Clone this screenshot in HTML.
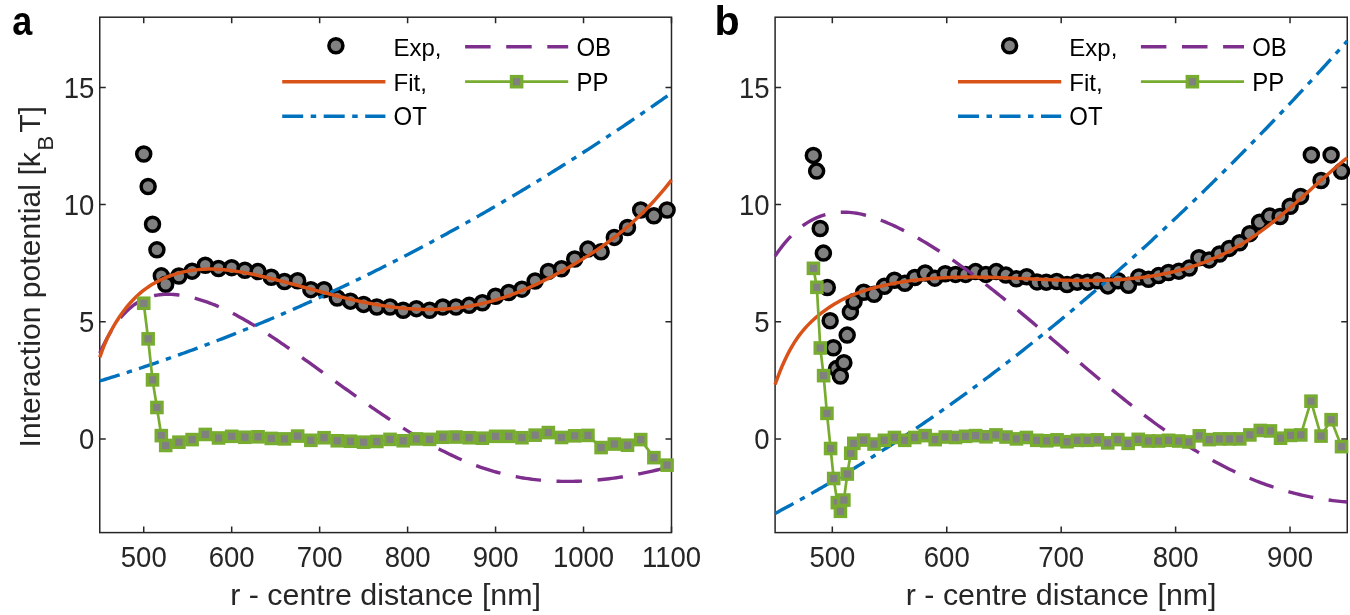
<!DOCTYPE html>
<html><head><meta charset="utf-8"><style>
html,body{margin:0;padding:0;background:#fff;width:1350px;height:615px;overflow:hidden}
svg{display:block;font-family:"Liberation Sans",sans-serif;will-change:transform}
</style></head><body>
<svg width="1350" height="615" viewBox="0 0 1350 615">
<rect width="1350" height="615" fill="#fff"/>
<rect x="99.75" y="17.2" width="571.74" height="515.40" fill="none" stroke="#262626" stroke-width="1.5"/>
<path d="M143.73,532.6 V526.60 M143.73,17.2 V23.20 M231.69,532.6 V526.60 M231.69,17.2 V23.20 M319.65,532.6 V526.60 M319.65,17.2 V23.20 M407.61,532.6 V526.60 M407.61,17.2 V23.20 M495.57,532.6 V526.60 M495.57,17.2 V23.20 M583.53,532.6 V526.60 M583.53,17.2 V23.20 M671.49,532.6 V526.60 M671.49,17.2 V23.20 M99.75,438.90 H105.75 M671.49,438.90 H665.49 M99.75,321.75 H105.75 M671.49,321.75 H665.49 M99.75,204.60 H105.75 M671.49,204.60 H665.49 M99.75,87.45 H105.75 M671.49,87.45 H665.49" stroke="#262626" stroke-width="1.5" fill="none"/>
<g fill="#808080" stroke="#000" stroke-width="3.5"><circle cx="143.73" cy="153.99" r="7.0"/><circle cx="148.13" cy="186.56" r="7.0"/><circle cx="152.53" cy="224.28" r="7.0"/><circle cx="156.92" cy="249.82" r="7.0"/><circle cx="161.32" cy="275.83" r="7.0"/><circle cx="165.72" cy="284.26" r="7.0"/><circle cx="178.91" cy="276.06" r="7.0"/><circle cx="192.11" cy="271.14" r="7.0"/><circle cx="205.30" cy="265.28" r="7.0"/><circle cx="218.50" cy="268.56" r="7.0"/><circle cx="231.69" cy="267.63" r="7.0"/><circle cx="244.88" cy="270.20" r="7.0"/><circle cx="258.08" cy="271.61" r="7.0"/><circle cx="271.27" cy="277.23" r="7.0"/><circle cx="284.47" cy="281.45" r="7.0"/><circle cx="297.66" cy="280.75" r="7.0"/><circle cx="310.85" cy="289.65" r="7.0"/><circle cx="324.05" cy="289.65" r="7.0"/><circle cx="337.24" cy="298.09" r="7.0"/><circle cx="350.44" cy="301.13" r="7.0"/><circle cx="363.63" cy="304.41" r="7.0"/><circle cx="376.82" cy="306.99" r="7.0"/><circle cx="390.02" cy="306.99" r="7.0"/><circle cx="403.21" cy="310.27" r="7.0"/><circle cx="416.41" cy="308.63" r="7.0"/><circle cx="429.60" cy="310.27" r="7.0"/><circle cx="442.79" cy="306.99" r="7.0"/><circle cx="455.99" cy="306.99" r="7.0"/><circle cx="469.18" cy="305.35" r="7.0"/><circle cx="482.38" cy="302.77" r="7.0"/><circle cx="495.57" cy="296.21" r="7.0"/><circle cx="508.76" cy="292.46" r="7.0"/><circle cx="521.96" cy="289.18" r="7.0"/><circle cx="535.15" cy="280.98" r="7.0"/><circle cx="548.35" cy="271.38" r="7.0"/><circle cx="561.54" cy="268.80" r="7.0"/><circle cx="574.73" cy="258.96" r="7.0"/><circle cx="587.93" cy="249.12" r="7.0"/><circle cx="601.12" cy="251.69" r="7.0"/><circle cx="614.32" cy="237.40" r="7.0"/><circle cx="627.51" cy="227.56" r="7.0"/><circle cx="640.70" cy="209.99" r="7.0"/><circle cx="653.90" cy="215.85" r="7.0"/><circle cx="667.09" cy="209.99" r="7.0"/></g>
<path d="M99.75,380.98 L101.65,380.41 L103.55,379.83 L105.45,379.25 L107.35,378.67 L109.24,378.08 L111.14,377.49 L113.04,376.90 L114.94,376.31 L116.84,375.71 L118.74,375.12 L120.64,374.51 L122.54,373.91 L124.44,373.31 L126.34,372.70 L128.23,372.09 L130.13,371.47 L132.03,370.86 L133.93,370.24 L135.83,369.62 L137.73,368.99 L139.63,368.37 L141.53,367.74 L143.43,367.11 L145.32,366.47 L147.22,365.84 L149.12,365.20 L151.02,364.56 L152.92,363.91 L154.82,363.27 L156.72,362.62 L158.62,361.97 L160.52,361.31 L162.41,360.65 L164.31,360.00 L166.21,359.33 L168.11,358.67 L170.01,358.00 L171.91,357.33 L173.81,356.66 L175.71,355.99 L177.61,355.31 L179.51,354.63 L181.40,353.95 L183.30,353.26 L185.20,352.58 L187.10,351.89 L189.00,351.20 L190.90,350.50 L192.80,349.80 L194.70,349.10 L196.60,348.40 L198.49,347.70 L200.39,346.99 L202.29,346.28 L204.19,345.57 L206.09,344.85 L207.99,344.13 L209.89,343.41 L211.79,342.69 L213.69,341.97 L215.59,341.24 L217.48,340.51 L219.38,339.77 L221.28,339.04 L223.18,338.30 L225.08,337.56 L226.98,336.82 L228.88,336.07 L230.78,335.32 L232.68,334.57 L234.57,333.82 L236.47,333.07 L238.37,332.31 L240.27,331.55 L242.17,330.78 L244.07,330.02 L245.97,329.25 L247.87,328.48 L249.77,327.70 L251.66,326.93 L253.56,326.15 L255.46,325.37 L257.36,324.58 L259.26,323.80 L261.16,323.01 L263.06,322.22 L264.96,321.43 L266.86,320.63 L268.76,319.83 L270.65,319.03 L272.55,318.22 L274.45,317.42 L276.35,316.61 L278.25,315.80 L280.15,314.98 L282.05,314.17 L283.95,313.35 L285.85,312.53 L287.74,311.70 L289.64,310.87 L291.54,310.05 L293.44,309.21 L295.34,308.38 L297.24,307.54 L299.14,306.70 L301.04,305.86 L302.94,305.02 L304.84,304.17 L306.73,303.32 L308.63,302.47 L310.53,301.61 L312.43,300.76 L314.33,299.90 L316.23,299.03 L318.13,298.17 L320.03,297.30 L321.93,296.43 L323.82,295.56 L325.72,294.68 L327.62,293.81 L329.52,292.93 L331.42,292.04 L333.32,291.16 L335.22,290.27 L337.12,289.38 L339.02,288.49 L340.91,287.59 L342.81,286.69 L344.71,285.79 L346.61,284.89 L348.51,283.98 L350.41,283.08 L352.31,282.17 L354.21,281.25 L356.11,280.34 L358.01,279.42 L359.90,278.50 L361.80,277.58 L363.70,276.65 L365.60,275.72 L367.50,274.79 L369.40,273.86 L371.30,272.92 L373.20,271.98 L375.10,271.04 L376.99,270.10 L378.89,269.15 L380.79,268.20 L382.69,267.25 L384.59,266.30 L386.49,265.34 L388.39,264.38 L390.29,263.42 L392.19,262.46 L394.09,261.49 L395.98,260.52 L397.88,259.55 L399.78,258.58 L401.68,257.60 L403.58,256.62 L405.48,255.64 L407.38,254.65 L409.28,253.67 L411.18,252.68 L413.07,251.69 L414.97,250.69 L416.87,249.69 L418.77,248.70 L420.67,247.69 L422.57,246.69 L424.47,245.68 L426.37,244.67 L428.27,243.66 L430.16,242.65 L432.06,241.63 L433.96,240.61 L435.86,239.59 L437.76,238.56 L439.66,237.53 L441.56,236.50 L443.46,235.47 L445.36,234.44 L447.26,233.40 L449.15,232.36 L451.05,231.32 L452.95,230.27 L454.85,229.22 L456.75,228.17 L458.65,227.12 L460.55,226.06 L462.45,225.01 L464.35,223.95 L466.24,222.88 L468.14,221.82 L470.04,220.75 L471.94,219.68 L473.84,218.61 L475.74,217.53 L477.64,216.45 L479.54,215.37 L481.44,214.29 L483.34,213.20 L485.23,212.11 L487.13,211.02 L489.03,209.93 L490.93,208.83 L492.83,207.73 L494.73,206.63 L496.63,205.53 L498.53,204.42 L500.43,203.32 L502.32,202.20 L504.22,201.09 L506.12,199.97 L508.02,198.86 L509.92,197.73 L511.82,196.61 L513.72,195.48 L515.62,194.35 L517.52,193.22 L519.41,192.09 L521.31,190.95 L523.21,189.81 L525.11,188.67 L527.01,187.53 L528.91,186.38 L530.81,185.23 L532.71,184.08 L534.61,182.92 L536.51,181.77 L538.40,180.61 L540.30,179.45 L542.20,178.28 L544.10,177.11 L546.00,175.95 L547.90,174.77 L549.80,173.60 L551.70,172.42 L553.60,171.24 L555.49,170.06 L557.39,168.87 L559.29,167.69 L561.19,166.50 L563.09,165.30 L564.99,164.11 L566.89,162.91 L568.79,161.71 L570.69,160.51 L572.59,159.30 L574.48,158.10 L576.38,156.89 L578.28,155.67 L580.18,154.46 L582.08,153.24 L583.98,152.02 L585.88,150.80 L587.78,149.57 L589.68,148.34 L591.57,147.11 L593.47,145.88 L595.37,144.64 L597.27,143.41 L599.17,142.16 L601.07,140.92 L602.97,139.68 L604.87,138.43 L606.77,137.18 L608.66,135.92 L610.56,134.67 L612.46,133.41 L614.36,132.15 L616.26,130.88 L618.16,129.62 L620.06,128.35 L621.96,127.08 L623.86,125.80 L625.76,124.53 L627.65,123.25 L629.55,121.97 L631.45,120.68 L633.35,119.40 L635.25,118.11 L637.15,116.82 L639.05,115.52 L640.95,114.23 L642.85,112.93 L644.74,111.63 L646.64,110.32 L648.54,109.01 L650.44,107.70 L652.34,106.39 L654.24,105.08 L656.14,103.76 L658.04,102.44 L659.94,101.12 L661.83,99.80 L663.73,98.47 L665.63,97.14 L667.53,95.81" fill="none" stroke="#0072BD" stroke-width="3.4" stroke-dasharray="20.85 7.45 5.45 7.45"/>
<path d="M99.75,353.30 L102.14,348.06 L104.53,343.14 L106.93,338.54 L109.32,334.24 L111.71,330.24 L114.10,326.51 L116.50,323.06 L118.89,319.87 L121.28,316.92 L123.67,314.21 L126.06,311.72 L128.46,309.44 L130.85,307.37 L133.24,305.48 L135.63,303.78 L138.03,302.24 L140.42,300.85 L142.81,299.62 L145.20,298.54 L147.59,297.60 L149.99,296.78 L152.38,296.10 L154.77,295.53 L157.16,295.08 L159.56,294.74 L161.95,294.49 L164.34,294.34 L166.73,294.28 L169.12,294.30 L171.52,294.39 L173.91,294.55 L176.30,294.78 L178.69,295.06 L181.09,295.39 L183.48,295.77 L185.87,296.21 L188.26,296.69 L190.65,297.22 L193.05,297.79 L195.44,298.42 L197.83,299.09 L200.22,299.80 L202.62,300.55 L205.01,301.35 L207.40,302.19 L209.79,303.06 L212.18,303.98 L214.58,304.94 L216.97,305.93 L219.36,306.96 L221.75,308.02 L224.15,309.12 L226.54,310.26 L228.93,311.42 L231.32,312.62 L233.71,313.84 L236.11,315.10 L238.50,316.38 L240.89,317.69 L243.28,319.03 L245.68,320.40 L248.07,321.79 L250.46,323.20 L252.85,324.63 L255.24,326.09 L257.64,327.57 L260.03,329.07 L262.42,330.58 L264.81,332.12 L267.21,333.67 L269.60,335.24 L271.99,336.82 L274.38,338.42 L276.77,340.02 L279.17,341.65 L281.56,343.28 L283.95,344.92 L286.34,346.57 L288.74,348.23 L291.13,349.90 L293.52,351.57 L295.91,353.25 L298.30,354.94 L300.70,356.63 L303.09,358.33 L305.48,360.03 L307.87,361.74 L310.27,363.45 L312.66,365.16 L315.05,366.88 L317.44,368.60 L319.83,370.32 L322.23,372.04 L324.62,373.76 L327.01,375.49 L329.40,377.21 L331.80,378.93 L334.19,380.66 L336.58,382.38 L338.97,384.10 L341.36,385.82 L343.76,387.54 L346.15,389.25 L348.54,390.96 L350.93,392.67 L353.33,394.37 L355.72,396.07 L358.11,397.76 L360.50,399.45 L362.89,401.13 L365.29,402.81 L367.68,404.47 L370.07,406.13 L372.46,407.79 L374.86,409.43 L377.25,411.07 L379.64,412.70 L382.03,414.32 L384.42,415.92 L386.82,417.52 L389.21,419.11 L391.60,420.68 L393.99,422.25 L396.38,423.80 L398.78,425.34 L401.17,426.87 L403.56,428.38 L405.95,429.88 L408.35,431.36 L410.74,432.83 L413.13,434.29 L415.52,435.73 L417.91,437.15 L420.31,438.56 L422.70,439.94 L425.09,441.32 L427.48,442.67 L429.88,444.01 L432.27,445.32 L434.66,446.62 L437.05,447.90 L439.44,449.16 L441.84,450.39 L444.23,451.61 L446.62,452.81 L449.01,453.98 L451.41,455.13 L453.80,456.26 L456.19,457.36 L458.58,458.45 L460.97,459.50 L463.37,460.54 L465.76,461.54 L468.15,462.53 L470.54,463.48 L472.94,464.41 L475.33,465.32 L477.72,466.19 L480.11,467.04 L482.50,467.86 L484.90,468.66 L487.29,469.43 L489.68,470.17 L492.07,470.89 L494.47,471.58 L496.86,472.25 L499.25,472.89 L501.64,473.51 L504.03,474.10 L506.43,474.66 L508.82,475.20 L511.21,475.72 L513.60,476.21 L516.00,476.68 L518.39,477.13 L520.78,477.55 L523.17,477.95 L525.56,478.33 L527.96,478.68 L530.35,479.01 L532.74,479.32 L535.13,479.61 L537.53,479.87 L539.92,480.12 L542.31,480.34 L544.70,480.54 L547.09,480.72 L549.49,480.88 L551.88,481.01 L554.27,481.13 L556.66,481.23 L559.06,481.31 L561.45,481.36 L563.84,481.40 L566.23,481.42 L568.62,481.42 L571.02,481.40 L573.41,481.37 L575.80,481.31 L578.19,481.23 L580.59,481.14 L582.98,481.03 L585.37,480.90 L587.76,480.76 L590.15,480.60 L592.55,480.42 L594.94,480.22 L597.33,480.01 L599.72,479.78 L602.12,479.54 L604.51,479.28 L606.90,479.00 L609.29,478.71 L611.68,478.40 L614.08,478.08 L616.47,477.74 L618.86,477.39 L621.25,477.03 L623.65,476.65 L626.04,476.25 L628.43,475.85 L630.82,475.42 L633.21,474.99 L635.61,474.54 L638.00,474.08 L640.39,473.61 L642.78,473.13 L645.18,472.63 L647.57,472.12 L649.96,471.60 L652.35,471.07 L654.74,470.52 L657.14,469.97 L659.53,469.40 L661.92,468.82 L664.31,468.24 L666.71,467.64 L669.10,467.03 L671.49,466.42" fill="none" stroke="#7E2F8E" stroke-width="3.4" stroke-dasharray="25.5 15.6"/>
<path d="M99.75,357.44 L102.14,350.56 L104.53,344.44 L106.93,338.96 L109.32,334.02 L111.71,329.53 L114.10,325.36 L116.50,321.44 L118.89,317.73 L121.28,314.24 L123.67,310.95 L126.06,307.86 L128.46,304.95 L130.85,302.22 L133.24,299.66 L135.63,297.27 L138.03,295.02 L140.42,292.93 L142.81,290.97 L145.20,289.14 L147.59,287.43 L149.99,285.84 L152.38,284.35 L154.77,282.96 L157.16,281.65 L159.56,280.43 L161.95,279.28 L164.34,278.20 L166.73,277.19 L169.12,276.25 L171.52,275.37 L173.91,274.56 L176.30,273.81 L178.69,273.12 L181.09,272.49 L183.48,271.91 L185.87,271.40 L188.26,270.94 L190.65,270.54 L193.05,270.18 L195.44,269.88 L197.83,269.63 L200.22,269.43 L202.62,269.27 L205.01,269.17 L207.40,269.10 L209.79,269.08 L212.18,269.09 L214.58,269.15 L216.97,269.25 L219.36,269.38 L221.75,269.55 L224.15,269.76 L226.54,269.99 L228.93,270.26 L231.32,270.56 L233.71,270.88 L236.11,271.23 L238.50,271.61 L240.89,272.01 L243.28,272.44 L245.68,272.88 L248.07,273.35 L250.46,273.83 L252.85,274.33 L255.24,274.85 L257.64,275.38 L260.03,275.92 L262.42,276.48 L264.81,277.04 L267.21,277.62 L269.60,278.20 L271.99,278.79 L274.38,279.39 L276.77,279.99 L279.17,280.60 L281.56,281.22 L283.95,281.85 L286.34,282.47 L288.74,283.11 L291.13,283.74 L293.52,284.38 L295.91,285.03 L298.30,285.67 L300.70,286.32 L303.09,286.97 L305.48,287.62 L307.87,288.26 L310.27,288.91 L312.66,289.56 L315.05,290.21 L317.44,290.85 L319.83,291.49 L322.23,292.13 L324.62,292.77 L327.01,293.40 L329.40,294.02 L331.80,294.64 L334.19,295.26 L336.58,295.87 L338.97,296.47 L341.36,297.06 L343.76,297.65 L346.15,298.23 L348.54,298.80 L350.93,299.36 L353.33,299.91 L355.72,300.44 L358.11,300.97 L360.50,301.49 L362.89,301.99 L365.29,302.48 L367.68,302.96 L370.07,303.42 L372.46,303.87 L374.86,304.31 L377.25,304.73 L379.64,305.13 L382.03,305.52 L384.42,305.89 L386.82,306.25 L389.21,306.59 L391.60,306.91 L393.99,307.22 L396.38,307.50 L398.78,307.77 L401.17,308.02 L403.56,308.26 L405.95,308.47 L408.35,308.66 L410.74,308.84 L413.13,308.99 L415.52,309.13 L417.91,309.24 L420.31,309.34 L422.70,309.41 L425.09,309.46 L427.48,309.49 L429.88,309.50 L432.27,309.48 L434.66,309.45 L437.05,309.39 L439.44,309.30 L441.84,309.20 L444.23,309.07 L446.62,308.91 L449.01,308.73 L451.41,308.53 L453.80,308.30 L456.19,308.05 L458.58,307.77 L460.97,307.47 L463.37,307.13 L465.76,306.78 L468.15,306.39 L470.54,305.98 L472.94,305.54 L475.33,305.07 L477.72,304.58 L480.11,304.05 L482.50,303.50 L484.90,302.92 L487.29,302.32 L489.68,301.68 L492.07,301.02 L494.47,300.33 L496.86,299.62 L499.25,298.88 L501.64,298.11 L504.03,297.32 L506.43,296.50 L508.82,295.66 L511.21,294.80 L513.60,293.90 L516.00,292.99 L518.39,292.05 L520.78,291.09 L523.17,290.11 L525.56,289.10 L527.96,288.07 L530.35,287.02 L532.74,285.94 L535.13,284.85 L537.53,283.73 L539.92,282.59 L542.31,281.43 L544.70,280.26 L547.09,279.06 L549.49,277.84 L551.88,276.60 L554.27,275.34 L556.66,274.07 L559.06,272.77 L561.45,271.46 L563.84,270.13 L566.23,268.78 L568.62,267.41 L571.02,266.03 L573.41,264.63 L575.80,263.21 L578.19,261.78 L580.59,260.33 L582.98,258.87 L585.37,257.38 L587.76,255.88 L590.15,254.36 L592.55,252.81 L594.94,251.24 L597.33,249.64 L599.72,248.02 L602.12,246.37 L604.51,244.69 L606.90,242.98 L609.29,241.23 L611.68,239.46 L614.08,237.64 L616.47,235.80 L618.86,233.91 L621.25,231.98 L623.65,230.02 L626.04,228.01 L628.43,225.96 L630.82,223.86 L633.21,221.72 L635.61,219.53 L638.00,217.29 L640.39,215.00 L642.78,212.66 L645.18,210.26 L647.57,207.81 L649.96,205.31 L652.35,202.74 L654.74,200.12 L657.14,197.44 L659.53,194.70 L661.92,191.89 L664.31,189.02 L666.71,186.08 L669.10,183.08 L671.49,180.01" fill="none" stroke="#D95319" stroke-width="3.5"/>
<path d="M143.73,303.24 L148.13,338.85 L152.53,379.86 L156.92,407.50 L161.32,435.62 L165.72,445.46 L178.91,442.18 L192.11,439.60 L205.30,434.45 L218.50,437.96 L231.69,436.32 L244.88,437.26 L258.08,436.79 L271.27,438.43 L284.47,438.90 L297.66,436.09 L310.85,440.31 L324.05,437.73 L337.24,440.77 L350.44,441.24 L363.63,442.18 L376.82,441.48 L390.02,439.37 L403.21,440.77 L416.41,438.90 L429.60,439.37 L442.79,437.26 L455.99,437.03 L469.18,437.73 L482.38,438.20 L495.57,436.32 L508.76,436.32 L521.96,437.73 L535.15,435.15 L548.35,432.57 L561.54,437.49 L574.73,435.85 L587.93,435.39 L601.12,447.57 L614.32,444.05 L627.51,445.23 L640.70,439.60 L653.90,457.64 L667.09,465.14" fill="none" stroke="#77AC30" stroke-width="2.7" stroke-linejoin="round"/>
<g fill="#808080" stroke="#77AC30" stroke-width="3.2"><rect x="138.53" y="298.04" width="10.4" height="10.4"/><rect x="142.93" y="333.65" width="10.4" height="10.4"/><rect x="147.33" y="374.66" width="10.4" height="10.4"/><rect x="151.72" y="402.30" width="10.4" height="10.4"/><rect x="156.12" y="430.42" width="10.4" height="10.4"/><rect x="160.52" y="440.26" width="10.4" height="10.4"/><rect x="173.71" y="436.98" width="10.4" height="10.4"/><rect x="186.91" y="434.40" width="10.4" height="10.4"/><rect x="200.10" y="429.25" width="10.4" height="10.4"/><rect x="213.30" y="432.76" width="10.4" height="10.4"/><rect x="226.49" y="431.12" width="10.4" height="10.4"/><rect x="239.68" y="432.06" width="10.4" height="10.4"/><rect x="252.88" y="431.59" width="10.4" height="10.4"/><rect x="266.07" y="433.23" width="10.4" height="10.4"/><rect x="279.27" y="433.70" width="10.4" height="10.4"/><rect x="292.46" y="430.89" width="10.4" height="10.4"/><rect x="305.65" y="435.11" width="10.4" height="10.4"/><rect x="318.85" y="432.53" width="10.4" height="10.4"/><rect x="332.04" y="435.57" width="10.4" height="10.4"/><rect x="345.24" y="436.04" width="10.4" height="10.4"/><rect x="358.43" y="436.98" width="10.4" height="10.4"/><rect x="371.62" y="436.28" width="10.4" height="10.4"/><rect x="384.82" y="434.17" width="10.4" height="10.4"/><rect x="398.01" y="435.57" width="10.4" height="10.4"/><rect x="411.21" y="433.70" width="10.4" height="10.4"/><rect x="424.40" y="434.17" width="10.4" height="10.4"/><rect x="437.59" y="432.06" width="10.4" height="10.4"/><rect x="450.79" y="431.83" width="10.4" height="10.4"/><rect x="463.98" y="432.53" width="10.4" height="10.4"/><rect x="477.18" y="433.00" width="10.4" height="10.4"/><rect x="490.37" y="431.12" width="10.4" height="10.4"/><rect x="503.56" y="431.12" width="10.4" height="10.4"/><rect x="516.76" y="432.53" width="10.4" height="10.4"/><rect x="529.95" y="429.95" width="10.4" height="10.4"/><rect x="543.15" y="427.37" width="10.4" height="10.4"/><rect x="556.34" y="432.29" width="10.4" height="10.4"/><rect x="569.53" y="430.65" width="10.4" height="10.4"/><rect x="582.73" y="430.19" width="10.4" height="10.4"/><rect x="595.92" y="442.37" width="10.4" height="10.4"/><rect x="609.12" y="438.85" width="10.4" height="10.4"/><rect x="622.31" y="440.03" width="10.4" height="10.4"/><rect x="635.50" y="434.40" width="10.4" height="10.4"/><rect x="648.70" y="452.44" width="10.4" height="10.4"/><rect x="661.89" y="459.94" width="10.4" height="10.4"/></g>
<g font-size="27.5" fill="#262626"><text transform="translate(143.73,566.5) scale(1,1.06)" text-anchor="middle">500</text><text transform="translate(231.69,566.5) scale(1,1.06)" text-anchor="middle">600</text><text transform="translate(319.65,566.5) scale(1,1.06)" text-anchor="middle">700</text><text transform="translate(407.61,566.5) scale(1,1.06)" text-anchor="middle">800</text><text transform="translate(495.57,566.5) scale(1,1.06)" text-anchor="middle">900</text><text transform="translate(583.53,566.5) scale(1,1.06)" text-anchor="middle">1000</text><text transform="translate(671.49,566.5) scale(1,1.06)" text-anchor="middle">1100</text><text transform="translate(94.25,449.00) scale(1,1.06)" text-anchor="end">0</text><text transform="translate(94.25,331.85) scale(1,1.06)" text-anchor="end">5</text><text transform="translate(94.25,214.70) scale(1,1.06)" text-anchor="end">10</text><text transform="translate(94.25,97.55) scale(1,1.06)" text-anchor="end">15</text></g>
<text x="385.62" y="604.8" text-anchor="middle" font-size="30.4" fill="#262626">r - centre distance [nm]</text>
<g transform="rotate(-90)" fill="#262626" font-size="30"><text x="-447.5" y="40.3" textLength="295.3" lengthAdjust="spacing">Interaction potential [k</text><text x="-150.6" y="53.3" font-size="22">B</text><text x="-132.8" y="40.3">T]</text></g>
<text transform="translate(12.3,35.3) scale(0.9,1.02)" font-size="40" font-weight="bold" fill="#000">a</text>
<circle cx="335.90" cy="45.8" r="7.0" fill="#808080" stroke="#000" stroke-width="3.5"/>
<path d="M282.20,81.7 H385.40" stroke="#D95319" stroke-width="3.5"/>
<path d="M282.20,116.3 H385.40" stroke="#0072BD" stroke-width="3.4" stroke-dasharray="21 7.5 5.5 7.5"/>
<path d="M465.10,46.8 H568.20" stroke="#7E2F8E" stroke-width="3.4" stroke-dasharray="25.5 15.6"/>
<path d="M465.10,81.7 H568.20" stroke="#77AC30" stroke-width="2.7"/>
<rect x="511.40" y="76.50" width="10.4" height="10.4" fill="#808080" stroke="#77AC30" stroke-width="3.2"/>
<g font-size="24" fill="#000"><text x="393.50" y="56.2">Exp,</text><text x="393.50" y="90.6">Fit,</text><text transform="translate(393.50,125.1) scale(1,1.045)">OT</text><text transform="translate(576.40,56.2) scale(1,1.045)">OB</text><text transform="translate(576.40,90.6) scale(1,1.045)">PP</text></g>
<rect x="775.10" y="17.2" width="572.15" height="515.40" fill="none" stroke="#262626" stroke-width="1.5"/>
<path d="M832.32,532.6 V526.60 M832.32,17.2 V23.20 M946.75,532.6 V526.60 M946.75,17.2 V23.20 M1061.18,532.6 V526.60 M1061.18,17.2 V23.20 M1175.61,532.6 V526.60 M1175.61,17.2 V23.20 M1290.04,532.6 V526.60 M1290.04,17.2 V23.20 M775.10,438.90 H781.10 M1347.25,438.90 H1341.25 M775.10,321.75 H781.10 M1347.25,321.75 H1341.25 M775.10,204.60 H781.10 M1347.25,204.60 H1341.25 M775.10,87.45 H781.10 M1347.25,87.45 H1341.25" stroke="#262626" stroke-width="1.5" fill="none"/>
<g fill="#808080" stroke="#000" stroke-width="3.5"><circle cx="813.32" cy="155.40" r="7.0"/><circle cx="816.64" cy="171.10" r="7.0"/><circle cx="820.19" cy="228.50" r="7.0"/><circle cx="823.39" cy="253.10" r="7.0"/><circle cx="827.28" cy="287.54" r="7.0"/><circle cx="830.14" cy="320.81" r="7.0"/><circle cx="833.34" cy="347.76" r="7.0"/><circle cx="836.55" cy="368.61" r="7.0"/><circle cx="840.33" cy="376.11" r="7.0"/><circle cx="843.87" cy="362.75" r="7.0"/><circle cx="847.19" cy="335.11" r="7.0"/><circle cx="850.39" cy="311.91" r="7.0"/><circle cx="854.06" cy="301.60" r="7.0"/><circle cx="863.67" cy="292.23" r="7.0"/><circle cx="874.08" cy="294.34" r="7.0"/><circle cx="884.38" cy="286.37" r="7.0"/><circle cx="894.45" cy="280.28" r="7.0"/><circle cx="904.86" cy="283.32" r="7.0"/><circle cx="914.82" cy="277.47" r="7.0"/><circle cx="925.23" cy="273.02" r="7.0"/><circle cx="934.84" cy="278.17" r="7.0"/><circle cx="945.26" cy="273.72" r="7.0"/><circle cx="955.56" cy="274.42" r="7.0"/><circle cx="965.63" cy="274.42" r="7.0"/><circle cx="975.58" cy="271.61" r="7.0"/><circle cx="985.88" cy="274.42" r="7.0"/><circle cx="996.29" cy="271.61" r="7.0"/><circle cx="1005.91" cy="275.12" r="7.0"/><circle cx="1016.32" cy="278.87" r="7.0"/><circle cx="1026.73" cy="276.76" r="7.0"/><circle cx="1037.03" cy="281.92" r="7.0"/><circle cx="1046.30" cy="282.15" r="7.0"/><circle cx="1056.71" cy="281.45" r="7.0"/><circle cx="1067.01" cy="284.50" r="7.0"/><circle cx="1077.20" cy="282.15" r="7.0"/><circle cx="1087.49" cy="282.15" r="7.0"/><circle cx="1097.45" cy="280.75" r="7.0"/><circle cx="1107.86" cy="285.90" r="7.0"/><circle cx="1118.05" cy="280.75" r="7.0"/><circle cx="1128.46" cy="285.20" r="7.0"/><circle cx="1138.87" cy="277.00" r="7.0"/><circle cx="1148.49" cy="279.34" r="7.0"/><circle cx="1158.55" cy="275.59" r="7.0"/><circle cx="1168.51" cy="272.55" r="7.0"/><circle cx="1178.92" cy="271.14" r="7.0"/><circle cx="1189.22" cy="268.10" r="7.0"/><circle cx="1198.95" cy="257.79" r="7.0"/><circle cx="1209.25" cy="259.89" r="7.0"/><circle cx="1219.55" cy="254.04" r="7.0"/><circle cx="1229.27" cy="248.41" r="7.0"/><circle cx="1239.57" cy="242.79" r="7.0"/><circle cx="1249.76" cy="233.65" r="7.0"/><circle cx="1259.60" cy="222.17" r="7.0"/><circle cx="1269.55" cy="216.08" r="7.0"/><circle cx="1280.08" cy="216.55" r="7.0"/><circle cx="1290.15" cy="206.24" r="7.0"/><circle cx="1300.56" cy="196.40" r="7.0"/><circle cx="1311.32" cy="154.93" r="7.0"/><circle cx="1321.05" cy="180.47" r="7.0"/><circle cx="1331.12" cy="154.93" r="7.0"/><circle cx="1341.53" cy="171.33" r="7.0"/></g>
<path d="M775.10,513.41 L777.01,512.40 L778.93,511.38 L780.84,510.35 L782.75,509.33 L784.67,508.29 L786.58,507.26 L788.49,506.22 L790.41,505.18 L792.32,504.13 L794.24,503.08 L796.15,502.03 L798.06,500.97 L799.98,499.91 L801.89,498.84 L803.80,497.77 L805.72,496.70 L807.63,495.62 L809.54,494.54 L811.46,493.46 L813.37,492.37 L815.28,491.27 L817.20,490.18 L819.11,489.08 L821.03,487.98 L822.94,486.87 L824.85,485.76 L826.77,484.64 L828.68,483.52 L830.59,482.40 L832.51,481.28 L834.42,480.15 L836.33,479.01 L838.25,477.87 L840.16,476.73 L842.07,475.59 L843.99,474.44 L845.90,473.29 L847.81,472.13 L849.73,470.97 L851.64,469.81 L853.56,468.64 L855.47,467.47 L857.38,466.29 L859.30,465.11 L861.21,463.93 L863.12,462.74 L865.04,461.55 L866.95,460.36 L868.86,459.16 L870.78,457.96 L872.69,456.75 L874.60,455.54 L876.52,454.33 L878.43,453.11 L880.34,451.89 L882.26,450.67 L884.17,449.44 L886.09,448.21 L888.00,446.97 L889.91,445.73 L891.83,444.49 L893.74,443.24 L895.65,441.99 L897.57,440.73 L899.48,439.48 L901.39,438.21 L903.31,436.95 L905.22,435.68 L907.13,434.40 L909.05,433.13 L910.96,431.85 L912.88,430.56 L914.79,429.27 L916.70,427.98 L918.62,426.68 L920.53,425.38 L922.44,424.08 L924.36,422.77 L926.27,421.46 L928.18,420.14 L930.10,418.82 L932.01,417.50 L933.92,416.17 L935.84,414.84 L937.75,413.51 L939.66,412.17 L941.58,410.83 L943.49,409.48 L945.41,408.13 L947.32,406.78 L949.23,405.42 L951.15,404.06 L953.06,402.70 L954.97,401.33 L956.89,399.96 L958.80,398.58 L960.71,397.20 L962.63,395.82 L964.54,394.43 L966.45,393.04 L968.37,391.65 L970.28,390.25 L972.20,388.85 L974.11,387.44 L976.02,386.03 L977.94,384.62 L979.85,383.20 L981.76,381.78 L983.68,380.35 L985.59,378.92 L987.50,377.49 L989.42,376.05 L991.33,374.61 L993.24,373.17 L995.16,371.72 L997.07,370.27 L998.98,368.82 L1000.90,367.36 L1002.81,365.89 L1004.73,364.43 L1006.64,362.96 L1008.55,361.48 L1010.47,360.00 L1012.38,358.52 L1014.29,357.04 L1016.21,355.55 L1018.12,354.05 L1020.03,352.56 L1021.95,351.06 L1023.86,349.55 L1025.77,348.04 L1027.69,346.53 L1029.60,345.02 L1031.52,343.50 L1033.43,341.97 L1035.34,340.45 L1037.26,338.91 L1039.17,337.38 L1041.08,335.84 L1043.00,334.30 L1044.91,332.75 L1046.82,331.20 L1048.74,329.65 L1050.65,328.09 L1052.56,326.53 L1054.48,324.97 L1056.39,323.40 L1058.30,321.82 L1060.22,320.25 L1062.13,318.67 L1064.05,317.08 L1065.96,315.50 L1067.87,313.90 L1069.79,312.31 L1071.70,310.71 L1073.61,309.11 L1075.53,307.50 L1077.44,305.89 L1079.35,304.28 L1081.27,302.66 L1083.18,301.04 L1085.09,299.41 L1087.01,297.78 L1088.92,296.15 L1090.83,294.51 L1092.75,292.87 L1094.66,291.22 L1096.58,289.58 L1098.49,287.92 L1100.40,286.27 L1102.32,284.61 L1104.23,282.95 L1106.14,281.28 L1108.06,279.61 L1109.97,277.93 L1111.88,276.25 L1113.80,274.57 L1115.71,272.89 L1117.62,271.20 L1119.54,269.50 L1121.45,267.80 L1123.37,266.10 L1125.28,264.40 L1127.19,262.69 L1129.11,260.98 L1131.02,259.26 L1132.93,257.54 L1134.85,255.82 L1136.76,254.09 L1138.67,252.36 L1140.59,250.62 L1142.50,248.88 L1144.41,247.14 L1146.33,245.39 L1148.24,243.64 L1150.15,241.89 L1152.07,240.13 L1153.98,238.37 L1155.90,236.60 L1157.81,234.83 L1159.72,233.06 L1161.64,231.28 L1163.55,229.50 L1165.46,227.72 L1167.38,225.93 L1169.29,224.14 L1171.20,222.34 L1173.12,220.54 L1175.03,218.74 L1176.94,216.93 L1178.86,215.12 L1180.77,213.31 L1182.69,211.49 L1184.60,209.67 L1186.51,207.84 L1188.43,206.01 L1190.34,204.18 L1192.25,202.34 L1194.17,200.50 L1196.08,198.65 L1197.99,196.80 L1199.91,194.95 L1201.82,193.09 L1203.73,191.23 L1205.65,189.37 L1207.56,187.50 L1209.47,185.63 L1211.39,183.76 L1213.30,181.88 L1215.22,179.99 L1217.13,178.11 L1219.04,176.22 L1220.96,174.32 L1222.87,172.42 L1224.78,170.52 L1226.70,168.62 L1228.61,166.71 L1230.52,164.79 L1232.44,162.88 L1234.35,160.96 L1236.26,159.03 L1238.18,157.10 L1240.09,155.17 L1242.01,153.24 L1243.92,151.30 L1245.83,149.35 L1247.75,147.41 L1249.66,145.45 L1251.57,143.50 L1253.49,141.54 L1255.40,139.58 L1257.31,137.61 L1259.23,135.64 L1261.14,133.67 L1263.05,131.69 L1264.97,129.71 L1266.88,127.73 L1268.79,125.74 L1270.71,123.74 L1272.62,121.75 L1274.54,119.75 L1276.45,117.74 L1278.36,115.74 L1280.28,113.72 L1282.19,111.71 L1284.10,109.69 L1286.02,107.67 L1287.93,105.64 L1289.84,103.61 L1291.76,101.58 L1293.67,99.54 L1295.58,97.50 L1297.50,95.45 L1299.41,93.40 L1301.32,91.35 L1303.24,89.29 L1305.15,87.23 L1307.07,85.17 L1308.98,83.10 L1310.89,81.03 L1312.81,78.95 L1314.72,76.87 L1316.63,74.79 L1318.55,72.70 L1320.46,70.61 L1322.37,68.51 L1324.29,66.42 L1326.20,64.31 L1328.11,62.21 L1330.03,60.10 L1331.94,57.98 L1333.86,55.87 L1335.77,53.74 L1337.68,51.62 L1339.60,49.49 L1341.51,47.36 L1343.42,45.22 L1345.34,43.08 L1347.25,40.94" fill="none" stroke="#0072BD" stroke-width="3.4" stroke-dasharray="20.85 7.45 5.45 7.45"/>
<path d="M775.10,256.06 L777.49,252.57 L779.89,249.27 L782.28,246.13 L784.68,243.16 L787.07,240.36 L789.46,237.72 L791.86,235.23 L794.25,232.90 L796.65,230.71 L799.04,228.67 L801.43,226.77 L803.83,225.00 L806.22,223.37 L808.62,221.87 L811.01,220.49 L813.40,219.23 L815.80,218.09 L818.19,217.06 L820.58,216.14 L822.98,215.32 L825.37,214.61 L827.77,213.99 L830.16,213.47 L832.55,213.04 L834.95,212.70 L837.34,212.45 L839.74,212.28 L842.13,212.19 L844.52,212.19 L846.92,212.26 L849.31,212.41 L851.71,212.63 L854.10,212.92 L856.49,213.28 L858.89,213.70 L861.28,214.19 L863.68,214.74 L866.07,215.34 L868.46,216.00 L870.86,216.71 L873.25,217.47 L875.65,218.28 L878.04,219.13 L880.43,220.03 L882.83,220.97 L885.22,221.94 L887.61,222.95 L890.01,224.00 L892.40,225.07 L894.80,226.17 L897.19,227.30 L899.58,228.45 L901.98,229.63 L904.37,230.84 L906.77,232.07 L909.16,233.33 L911.55,234.61 L913.95,235.92 L916.34,237.24 L918.74,238.60 L921.13,239.97 L923.52,241.37 L925.92,242.79 L928.31,244.23 L930.71,245.70 L933.10,247.18 L935.49,248.69 L937.89,250.22 L940.28,251.76 L942.68,253.33 L945.07,254.91 L947.46,256.51 L949.86,258.14 L952.25,259.78 L954.64,261.43 L957.04,263.11 L959.43,264.80 L961.83,266.51 L964.22,268.23 L966.61,269.97 L969.01,271.72 L971.40,273.49 L973.80,275.28 L976.19,277.07 L978.58,278.88 L980.98,280.71 L983.37,282.55 L985.77,284.40 L988.16,286.26 L990.55,288.13 L992.95,290.02 L995.34,291.91 L997.74,293.82 L1000.13,295.73 L1002.52,297.66 L1004.92,299.59 L1007.31,301.54 L1009.71,303.49 L1012.10,305.45 L1014.49,307.42 L1016.89,309.40 L1019.28,311.38 L1021.68,313.37 L1024.07,315.37 L1026.46,317.37 L1028.86,319.38 L1031.25,321.39 L1033.64,323.41 L1036.04,325.43 L1038.43,327.45 L1040.83,329.48 L1043.22,331.51 L1045.61,333.55 L1048.01,335.58 L1050.40,337.62 L1052.80,339.67 L1055.19,341.71 L1057.58,343.75 L1059.98,345.79 L1062.37,347.84 L1064.77,349.88 L1067.16,351.93 L1069.55,353.97 L1071.95,356.01 L1074.34,358.05 L1076.74,360.09 L1079.13,362.12 L1081.52,364.15 L1083.92,366.18 L1086.31,368.21 L1088.71,370.23 L1091.10,372.25 L1093.49,374.26 L1095.89,376.27 L1098.28,378.27 L1100.67,380.27 L1103.07,382.26 L1105.46,384.24 L1107.86,386.22 L1110.25,388.19 L1112.64,390.15 L1115.04,392.11 L1117.43,394.05 L1119.83,395.99 L1122.22,397.92 L1124.61,399.84 L1127.01,401.75 L1129.40,403.64 L1131.80,405.53 L1134.19,407.41 L1136.58,409.27 L1138.98,411.13 L1141.37,412.97 L1143.77,414.80 L1146.16,416.62 L1148.55,418.42 L1150.95,420.21 L1153.34,421.99 L1155.74,423.75 L1158.13,425.50 L1160.52,427.23 L1162.92,428.94 L1165.31,430.64 L1167.71,432.33 L1170.10,434.00 L1172.49,435.65 L1174.89,437.28 L1177.28,438.90 L1179.67,440.50 L1182.07,442.08 L1184.46,443.64 L1186.86,445.18 L1189.25,446.70 L1191.64,448.20 L1194.04,449.69 L1196.43,451.15 L1198.83,452.59 L1201.22,454.01 L1203.61,455.41 L1206.01,456.78 L1208.40,458.14 L1210.80,459.48 L1213.19,460.79 L1215.58,462.09 L1217.98,463.36 L1220.37,464.62 L1222.77,465.85 L1225.16,467.06 L1227.55,468.26 L1229.95,469.43 L1232.34,470.58 L1234.74,471.71 L1237.13,472.82 L1239.52,473.91 L1241.92,474.97 L1244.31,476.02 L1246.70,477.05 L1249.10,478.06 L1251.49,479.04 L1253.89,480.01 L1256.28,480.96 L1258.67,481.88 L1261.07,482.79 L1263.46,483.67 L1265.86,484.54 L1268.25,485.38 L1270.64,486.20 L1273.04,487.01 L1275.43,487.79 L1277.83,488.55 L1280.22,489.30 L1282.61,490.02 L1285.01,490.72 L1287.40,491.41 L1289.80,492.07 L1292.19,492.71 L1294.58,493.33 L1296.98,493.93 L1299.37,494.52 L1301.77,495.08 L1304.16,495.62 L1306.55,496.14 L1308.95,496.64 L1311.34,497.13 L1313.73,497.59 L1316.13,498.03 L1318.52,498.45 L1320.92,498.86 L1323.31,499.24 L1325.70,499.60 L1328.10,499.94 L1330.49,500.27 L1332.89,500.57 L1335.28,500.85 L1337.67,501.12 L1340.07,501.36 L1342.46,501.59 L1344.86,501.79 L1347.25,501.98" fill="none" stroke="#7E2F8E" stroke-width="3.4" stroke-dasharray="25.5 15.6"/>
<path d="M775.10,384.50 L777.49,377.81 L779.89,371.59 L782.28,365.81 L784.68,360.44 L787.07,355.45 L789.46,350.84 L791.86,346.57 L794.25,342.62 L796.65,338.97 L799.04,335.59 L801.43,332.47 L803.83,329.57 L806.22,326.87 L808.62,324.36 L811.01,322.00 L813.40,319.78 L815.80,317.67 L818.19,315.65 L820.58,313.71 L822.98,311.86 L825.37,310.10 L827.77,308.41 L830.16,306.80 L832.55,305.26 L834.95,303.79 L837.34,302.40 L839.74,301.07 L842.13,299.80 L844.52,298.60 L846.92,297.45 L849.31,296.37 L851.71,295.33 L854.10,294.35 L856.49,293.42 L858.89,292.53 L861.28,291.69 L863.68,290.89 L866.07,290.13 L868.46,289.40 L870.86,288.71 L873.25,288.06 L875.65,287.43 L878.04,286.82 L880.43,286.25 L882.83,285.69 L885.22,285.15 L887.61,284.64 L890.01,284.15 L892.40,283.67 L894.80,283.22 L897.19,282.78 L899.58,282.37 L901.98,281.97 L904.37,281.59 L906.77,281.23 L909.16,280.89 L911.55,280.56 L913.95,280.25 L916.34,279.96 L918.74,279.69 L921.13,279.43 L923.52,279.18 L925.92,278.96 L928.31,278.74 L930.71,278.54 L933.10,278.36 L935.49,278.19 L937.89,278.03 L940.28,277.89 L942.68,277.76 L945.07,277.64 L947.46,277.54 L949.86,277.44 L952.25,277.36 L954.64,277.29 L957.04,277.23 L959.43,277.18 L961.83,277.14 L964.22,277.11 L966.61,277.09 L969.01,277.08 L971.40,277.08 L973.80,277.09 L976.19,277.10 L978.58,277.13 L980.98,277.16 L983.37,277.20 L985.77,277.24 L988.16,277.29 L990.55,277.35 L992.95,277.41 L995.34,277.48 L997.74,277.56 L1000.13,277.64 L1002.52,277.72 L1004.92,277.81 L1007.31,277.90 L1009.71,277.99 L1012.10,278.09 L1014.49,278.19 L1016.89,278.29 L1019.28,278.40 L1021.68,278.50 L1024.07,278.61 L1026.46,278.72 L1028.86,278.83 L1031.25,278.93 L1033.64,279.04 L1036.04,279.15 L1038.43,279.25 L1040.83,279.36 L1043.22,279.46 L1045.61,279.56 L1048.01,279.66 L1050.40,279.75 L1052.80,279.85 L1055.19,279.93 L1057.58,280.02 L1059.98,280.10 L1062.37,280.17 L1064.77,280.24 L1067.16,280.30 L1069.55,280.36 L1071.95,280.41 L1074.34,280.46 L1076.74,280.50 L1079.13,280.53 L1081.52,280.55 L1083.92,280.56 L1086.31,280.57 L1088.71,280.57 L1091.10,280.55 L1093.49,280.53 L1095.89,280.50 L1098.28,280.46 L1100.67,280.40 L1103.07,280.34 L1105.46,280.26 L1107.86,280.18 L1110.25,280.08 L1112.64,279.96 L1115.04,279.84 L1117.43,279.70 L1119.83,279.55 L1122.22,279.38 L1124.61,279.20 L1127.01,279.00 L1129.40,278.79 L1131.80,278.57 L1134.19,278.32 L1136.58,278.06 L1138.98,277.79 L1141.37,277.50 L1143.77,277.19 L1146.16,276.86 L1148.55,276.51 L1150.95,276.15 L1153.34,275.76 L1155.74,275.36 L1158.13,274.94 L1160.52,274.49 L1162.92,274.03 L1165.31,273.55 L1167.71,273.04 L1170.10,272.51 L1172.49,271.96 L1174.89,271.39 L1177.28,270.79 L1179.67,270.17 L1182.07,269.53 L1184.46,268.86 L1186.86,268.16 L1189.25,267.44 L1191.64,266.69 L1194.04,265.92 L1196.43,265.11 L1198.83,264.28 L1201.22,263.42 L1203.61,262.54 L1206.01,261.62 L1208.40,260.67 L1210.80,259.69 L1213.19,258.68 L1215.58,257.64 L1217.98,256.57 L1220.37,255.46 L1222.77,254.32 L1225.16,253.15 L1227.55,251.94 L1229.95,250.70 L1232.34,249.42 L1234.74,248.11 L1237.13,246.76 L1239.52,245.38 L1241.92,243.95 L1244.31,242.49 L1246.70,241.00 L1249.10,239.46 L1251.49,237.88 L1253.89,236.27 L1256.28,234.61 L1258.67,232.91 L1261.07,231.18 L1263.46,229.41 L1265.86,227.60 L1268.25,225.76 L1270.64,223.89 L1273.04,221.99 L1275.43,220.06 L1277.83,218.11 L1280.22,216.13 L1282.61,214.12 L1285.01,212.10 L1287.40,210.06 L1289.80,208.00 L1292.19,205.92 L1294.58,203.83 L1296.98,201.73 L1299.37,199.61 L1301.77,197.49 L1304.16,195.36 L1306.55,193.22 L1308.95,191.08 L1311.34,188.94 L1313.73,186.80 L1316.13,184.66 L1318.52,182.52 L1320.92,180.39 L1323.31,178.26 L1325.70,176.15 L1328.10,174.04 L1330.49,171.94 L1332.89,169.86 L1335.28,167.79 L1337.67,165.74 L1340.07,163.71 L1342.46,161.70 L1344.86,159.72 L1347.25,157.75" fill="none" stroke="#D95319" stroke-width="3.5"/>
<path d="M813.43,268.33 L816.87,287.31 L820.30,347.99 L823.62,375.64 L826.94,413.36 L830.60,448.51 L833.69,478.50 L837.35,502.63 L840.44,511.30 L843.87,500.05 L847.31,474.04 L850.74,453.19 L853.83,443.35 L863.67,440.07 L874.08,444.05 L884.38,440.31 L894.45,437.49 L904.75,440.31 L914.70,437.49 L925.12,435.62 L935.19,439.60 L945.26,437.03 L955.44,437.49 L965.63,436.32 L975.58,435.62 L985.99,436.79 L995.95,434.92 L1006.02,437.03 L1016.43,438.90 L1026.39,437.49 L1036.69,440.31 L1046.76,440.77 L1057.06,439.84 L1067.01,441.71 L1077.54,440.31 L1087.38,440.31 L1097.45,439.84 L1107.75,442.88 L1117.82,439.60 L1128.12,443.35 L1138.19,439.37 L1148.37,441.01 L1158.55,441.01 L1168.62,440.31 L1178.81,441.01 L1188.88,441.95 L1199.29,435.85 L1209.25,439.60 L1219.66,438.90 L1229.62,438.90 L1239.80,438.90 L1249.87,434.92 L1260.28,430.47 L1270.47,430.93 L1280.54,438.20 L1290.61,435.39 L1300.79,434.92 L1310.98,401.18 L1321.05,436.09 L1331.12,419.69 L1341.53,446.63" fill="none" stroke="#77AC30" stroke-width="2.7" stroke-linejoin="round"/>
<g fill="#808080" stroke="#77AC30" stroke-width="3.2"><rect x="808.23" y="263.13" width="10.4" height="10.4"/><rect x="811.67" y="282.11" width="10.4" height="10.4"/><rect x="815.10" y="342.79" width="10.4" height="10.4"/><rect x="818.42" y="370.44" width="10.4" height="10.4"/><rect x="821.74" y="408.16" width="10.4" height="10.4"/><rect x="825.40" y="443.31" width="10.4" height="10.4"/><rect x="828.49" y="473.30" width="10.4" height="10.4"/><rect x="832.15" y="497.43" width="10.4" height="10.4"/><rect x="835.24" y="506.10" width="10.4" height="10.4"/><rect x="838.67" y="494.85" width="10.4" height="10.4"/><rect x="842.11" y="468.84" width="10.4" height="10.4"/><rect x="845.54" y="447.99" width="10.4" height="10.4"/><rect x="848.63" y="438.15" width="10.4" height="10.4"/><rect x="858.47" y="434.87" width="10.4" height="10.4"/><rect x="868.88" y="438.85" width="10.4" height="10.4"/><rect x="879.18" y="435.11" width="10.4" height="10.4"/><rect x="889.25" y="432.29" width="10.4" height="10.4"/><rect x="899.55" y="435.11" width="10.4" height="10.4"/><rect x="909.50" y="432.29" width="10.4" height="10.4"/><rect x="919.92" y="430.42" width="10.4" height="10.4"/><rect x="929.99" y="434.40" width="10.4" height="10.4"/><rect x="940.06" y="431.83" width="10.4" height="10.4"/><rect x="950.24" y="432.29" width="10.4" height="10.4"/><rect x="960.43" y="431.12" width="10.4" height="10.4"/><rect x="970.38" y="430.42" width="10.4" height="10.4"/><rect x="980.79" y="431.59" width="10.4" height="10.4"/><rect x="990.75" y="429.72" width="10.4" height="10.4"/><rect x="1000.82" y="431.83" width="10.4" height="10.4"/><rect x="1011.23" y="433.70" width="10.4" height="10.4"/><rect x="1021.19" y="432.29" width="10.4" height="10.4"/><rect x="1031.49" y="435.11" width="10.4" height="10.4"/><rect x="1041.56" y="435.57" width="10.4" height="10.4"/><rect x="1051.86" y="434.64" width="10.4" height="10.4"/><rect x="1061.81" y="436.51" width="10.4" height="10.4"/><rect x="1072.34" y="435.11" width="10.4" height="10.4"/><rect x="1082.18" y="435.11" width="10.4" height="10.4"/><rect x="1092.25" y="434.64" width="10.4" height="10.4"/><rect x="1102.55" y="437.68" width="10.4" height="10.4"/><rect x="1112.62" y="434.40" width="10.4" height="10.4"/><rect x="1122.92" y="438.15" width="10.4" height="10.4"/><rect x="1132.99" y="434.17" width="10.4" height="10.4"/><rect x="1143.17" y="435.81" width="10.4" height="10.4"/><rect x="1153.35" y="435.81" width="10.4" height="10.4"/><rect x="1163.42" y="435.11" width="10.4" height="10.4"/><rect x="1173.61" y="435.81" width="10.4" height="10.4"/><rect x="1183.68" y="436.75" width="10.4" height="10.4"/><rect x="1194.09" y="430.65" width="10.4" height="10.4"/><rect x="1204.05" y="434.40" width="10.4" height="10.4"/><rect x="1214.46" y="433.70" width="10.4" height="10.4"/><rect x="1224.42" y="433.70" width="10.4" height="10.4"/><rect x="1234.60" y="433.70" width="10.4" height="10.4"/><rect x="1244.67" y="429.72" width="10.4" height="10.4"/><rect x="1255.08" y="425.27" width="10.4" height="10.4"/><rect x="1265.27" y="425.73" width="10.4" height="10.4"/><rect x="1275.34" y="433.00" width="10.4" height="10.4"/><rect x="1285.41" y="430.19" width="10.4" height="10.4"/><rect x="1295.59" y="429.72" width="10.4" height="10.4"/><rect x="1305.78" y="395.98" width="10.4" height="10.4"/><rect x="1315.85" y="430.89" width="10.4" height="10.4"/><rect x="1325.92" y="414.49" width="10.4" height="10.4"/><rect x="1336.33" y="441.43" width="10.4" height="10.4"/></g>
<g font-size="27.5" fill="#262626"><text transform="translate(832.32,566.5) scale(1,1.06)" text-anchor="middle">500</text><text transform="translate(946.75,566.5) scale(1,1.06)" text-anchor="middle">600</text><text transform="translate(1061.18,566.5) scale(1,1.06)" text-anchor="middle">700</text><text transform="translate(1175.61,566.5) scale(1,1.06)" text-anchor="middle">800</text><text transform="translate(1290.04,566.5) scale(1,1.06)" text-anchor="middle">900</text><text transform="translate(769.60,449.00) scale(1,1.06)" text-anchor="end">0</text><text transform="translate(769.60,331.85) scale(1,1.06)" text-anchor="end">5</text><text transform="translate(769.60,214.70) scale(1,1.06)" text-anchor="end">10</text><text transform="translate(769.60,97.55) scale(1,1.06)" text-anchor="end">15</text></g>
<text x="1061.17" y="604.8" text-anchor="middle" font-size="30.4" fill="#262626">r - centre distance [nm]</text>
<text transform="translate(714.6,35.3) scale(1.03,1)" font-size="40" font-weight="bold" fill="#000">b</text>
<circle cx="1009.60" cy="45.8" r="7.0" fill="#808080" stroke="#000" stroke-width="3.5"/>
<path d="M958.00,81.7 H1061.20" stroke="#D95319" stroke-width="3.5"/>
<path d="M958.00,116.3 H1061.20" stroke="#0072BD" stroke-width="3.4" stroke-dasharray="21 7.5 5.5 7.5"/>
<path d="M1140.90,46.8 H1244.00" stroke="#7E2F8E" stroke-width="3.4" stroke-dasharray="25.5 15.6"/>
<path d="M1140.90,81.7 H1244.00" stroke="#77AC30" stroke-width="2.7"/>
<rect x="1187.20" y="76.50" width="10.4" height="10.4" fill="#808080" stroke="#77AC30" stroke-width="3.2"/>
<g font-size="24" fill="#000"><text x="1069.30" y="56.2">Exp,</text><text x="1069.30" y="90.6">Fit,</text><text transform="translate(1069.30,125.1) scale(1,1.045)">OT</text><text transform="translate(1252.20,56.2) scale(1,1.045)">OB</text><text transform="translate(1252.20,90.6) scale(1,1.045)">PP</text></g>
</svg></body></html>
